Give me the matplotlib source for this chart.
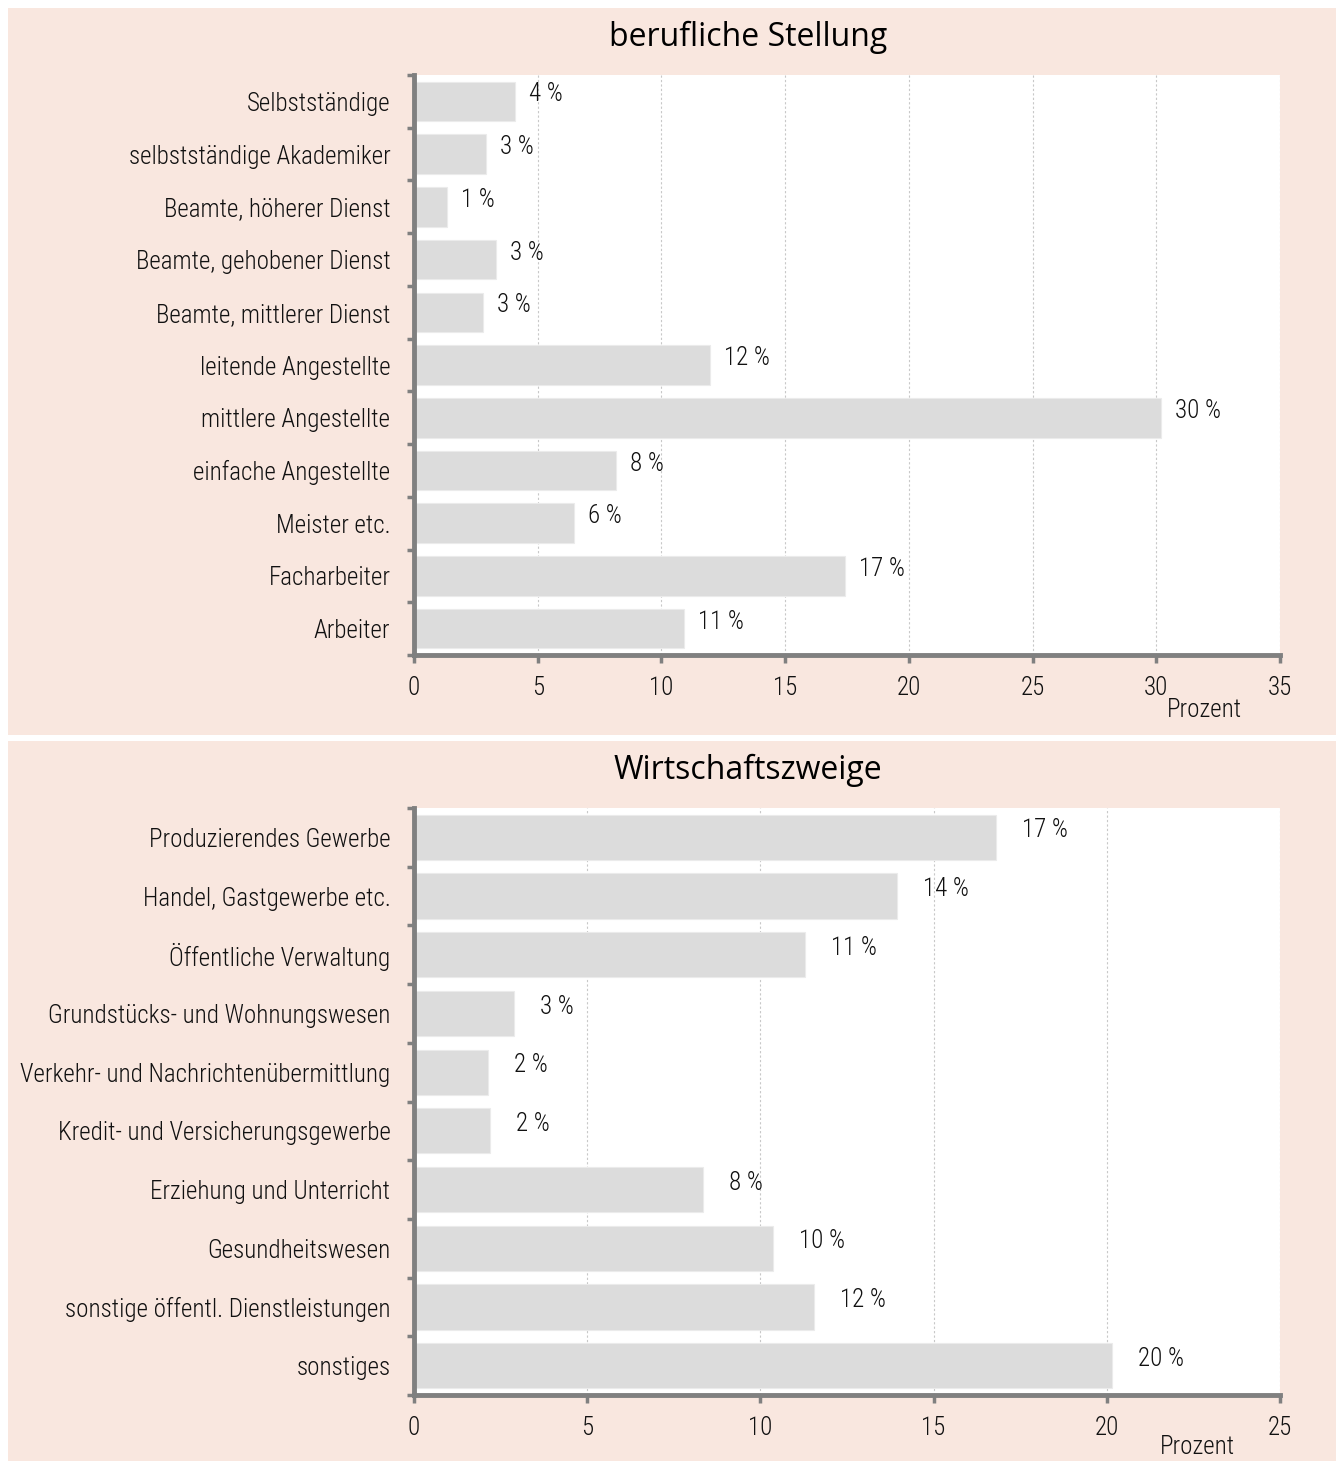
import matplotlib
matplotlib.use("Agg")
import matplotlib.pyplot as plt
from matplotlib import font_manager
from matplotlib.patches import Rectangle
from matplotlib.ticker import MultipleLocator, FixedLocator
import numpy as np

# ---------------- data ----------------
stellung_labels = ["Selbstständige", "selbstständige Akademiker", "Beamte, höherer Dienst",
                   "Beamte, gehobener Dienst", "Beamte, mittlerer Dienst", "leitende Angestellte",
                   "mittlere Angestellte", "einfache Angestellte", "Meister etc.",
                   "Facharbeiter", "Arbeiter"]
stellung_values = [4.1, 2.9, 1.35, 3.3, 2.8, 11.95, 30.2, 8.15, 6.45, 17.4, 10.9]
stellung_text = ["4 %", "3 %", "1 %", "3 %", "3 %", "12 %", "30 %", "8 %", "6 %", "17 %", "11 %"]

zweige_labels = ["Produzierendes Gewerbe", "Handel, Gastgewerbe etc.", "Öffentliche Verwaltung",
                 "Grundstücks- und Wohnungswesen", "Verkehr- und Nachrichtenübermittlung",
                 "Kredit- und Versicherungsgewerbe", "Erziehung und Unterricht",
                 "Gesundheitswesen", "sonstige öffentl. Dienstleistungen", "sonstiges"]
zweige_values = [16.8, 13.95, 11.3, 2.9, 2.15, 2.2, 8.35, 10.35, 11.55, 20.15]
zweige_text = ["17 %", "14 %", "11 %", "3 %", "2 %", "2 %", "8 %", "10 %", "12 %", "20 %"]

titles = ["berufliche Stellung", "Wirtschaftszweige"]
xmax = [35, 25]
x_unit = "Prozent"

# ---------------- fonts ----------------
fl = font_manager.fontManager.ttflist
names = {f.name for f in fl}
body_font = None
for cand in ["Roboto Condensed", "Liberation Sans Narrow", "Open Sans Condensed", "DejaVu Sans Condensed"]:
    if cand in names:
        body_font = cand
        break
body_stretch = "normal"
if body_font is None:
    body_font = "DejaVu Sans"
    body_stretch = "condensed"
weights = {f.weight for f in fl if f.name == body_font}
body_weight = 300 if any(isinstance(w, int) and w <= 300 for w in weights) or "light" in weights else "normal"
title_font = "Open Sans" if "Open Sans" in names else "DejaVu Sans"

W, H = 1341, 1461
fig = plt.figure(figsize=(W / 100, H / 100), dpi=100, facecolor="white")

def fx(x):
    return x / W

def fy(y):
    return 1 - y / H

panel_color = "#F9E7DF"
fig.patches.append(Rectangle((fx(8), fy(735)), fx(1336 - 8), (735 - 8) / H,
                             transform=fig.transFigure, facecolor=panel_color, edgecolor="none", zorder=-10))
fig.patches.append(Rectangle((fx(8), fy(1461)), fx(1336 - 8), (1461 - 741) / H,
                             transform=fig.transFigure, facecolor=panel_color, edgecolor="none", zorder=-10))

specs = [
    dict(labels=stellung_labels, values=stellung_values, text=stellung_text, xmax=xmax[0],
         top=75, bottom=655, title=titles[0], title_y=37, off=14, prozent_y=710, prozent_x=1204, bh=0.75),
    dict(labels=zweige_labels, values=zweige_values, text=zweige_text, xmax=xmax[1],
         top=808, bottom=1395, title=titles[1], title_y=770, off=26, prozent_y=1447, prozent_x=1197, bh=0.77),
]

spine_c = "#808080"
tick_font = dict(family=body_font, fontsize=18, fontstretch=body_stretch, fontweight=body_weight, color="#111111")

for s in specs:
    left, right = 414, 1280
    ax = fig.add_axes([fx(left), fy(s["bottom"]), fx(right - left), (s["bottom"] - s["top"]) / H])
    ax.set_zorder(1)
    ax.set_facecolor("white")
    n = len(s["labels"])
    y = np.arange(n)
    ax.barh(y, s["values"], height=s["bh"], color="#DCDCDC", edgecolor="#EBEBEB", linewidth=0.8, zorder=2)
    ax.set_xlim(0, s["xmax"])
    ax.set_ylim(n - 0.5, -0.5)
    ax.xaxis.set_major_locator(MultipleLocator(5))
    ax.set_yticks(y)
    ax.set_yticklabels(s["labels"], **tick_font)
    ax.yaxis.set_minor_locator(FixedLocator(np.arange(-0.5, n, 1.0)))
    ax.tick_params(axis="y", which="major", length=0, pad=17)
    ax.tick_params(axis="y", which="minor", length=5, width=2.5, color=spine_c, direction="out")
    ax.tick_params(axis="x", which="major", length=6, width=2.5, color=spine_c, direction="out", pad=9)
    for lab in ax.get_xticklabels():
        lab.set_fontfamily(body_font)
        lab.set_fontsize(18)
        lab.set_fontstretch(body_stretch)
        lab.set_fontweight(body_weight)
        lab.set_color("#111111")
    ax.grid(axis="x", color="#c8c8c8", linestyle=(0, (2, 2)), linewidth=0.8, zorder=1)
    ax.set_axisbelow(True)
    for side in ["top", "right"]:
        ax.spines[side].set_visible(False)
    for side in ["left", "bottom"]:
        ax.spines[side].set_color(spine_c)
        ax.spines[side].set_linewidth(3.5)
        ax.spines[side].set_capstyle("projecting")
    for yi, v, t in zip(y, s["values"], s["text"]):
        ax.annotate(t, xy=(v, yi), xytext=(s["off"] * 0.72, 5), textcoords="offset points",
                    ha="left", va="center", **tick_font)
    fig.text(fx(748), fy(s["title_y"]), s["title"], ha="center", va="center",
             family=title_font, fontsize=23, color="black")
    fig.text(fx(s["prozent_x"]), fy(s["prozent_y"]), x_unit, ha="center", va="center", **tick_font)

fig.savefig("out.png", dpi=100, facecolor="white")
